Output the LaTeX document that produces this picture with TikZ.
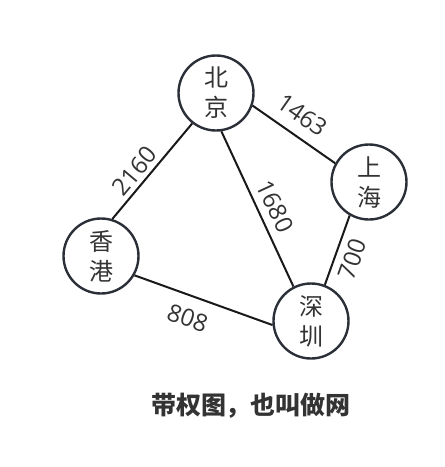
\documentclass[tikz,border=0pt]{standalone}
\usepackage{fontspec}
\newfontfamily\cjk{Noto Sans CJK SC}
\newfontfamily\numfont{Open Sans}
\definecolor{ring}{HTML}{2B3038}
\definecolor{ink}{HTML}{333333}

\begin{document}
\begin{tikzpicture}[x=1pt,y=1pt,
  city/.style={circle,draw=ring,line width=2.4pt,minimum size=75pt,inner sep=0pt,
    align=center,text=ink,font=\cjk\fontsize{24}{30}\selectfont},
  road/.style={line width=2pt,black!90},
  wt/.style={sloped,inner sep=#1,text=ink,font=\numfont\fontsize{24}{26}\selectfont}]
\useasboundingbox (0,0) rectangle (445,-467);
% cities
\node[city] (bj) at (216,-93)  {北\\京};
\node[city] (sh) at (369,-182) {上\\海};
\node[city] (hk) at (101,-256) {香\\港};
\node[city] (sz) at (311,-321) {深\\圳};
% weighted edges
\draw[road] (bj.-19)  -- node[wt=11pt,above,pos=0.46] {1463} (sh.151);
\draw[road] (hk.73)   -- node[wt=4pt,above,pos=0.41]  {2160} (bj.-128);
\draw[road] (bj.-82)  -- node[wt=7.5pt,above,pos=0.53] {1680} (sz.117);
\draw[road] (sh.-120) -- node[wt=7.5pt,below,pos=0.54] {700} (sz.69);
\draw[road] (hk.-30)  -- node[wt=12.5pt,below,pos=0.44] {808} (sz.186);
% caption
\node[text=ink,font=\cjk\bfseries\fontsize{25}{28}\selectfont] (cap) at (251,-406) {带权图，也叫做网};
\end{tikzpicture}
\end{document}
